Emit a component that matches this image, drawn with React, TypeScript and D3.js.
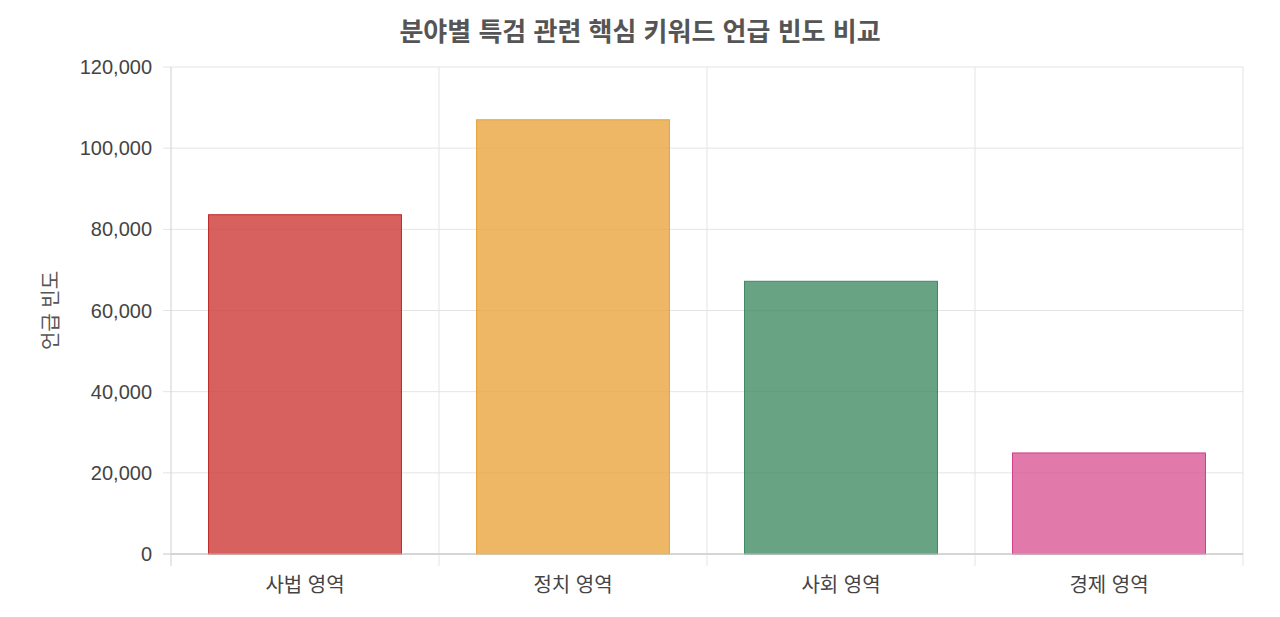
import React from "react";
import * as d3 from "d3";

const categories = ["사법 영역", "정치 영역", "사회 영역", "경제 영역"];
const values = [83600, 107000, 67200, 24900];
const fills = ["rgba(204,58,54,0.8)", "rgba(232,165,62,0.8)", "rgba(61,138,98,0.78)", "rgba(217,83,147,0.78)"];
const strokes = ["#bf2a2a", "#e8a33d", "#3d8a62", "#d13f88"];
const yTicks = [0, 20000, 40000, 60000, 80000, 100000, 120000];
const titleText = "분야별 특검 관련 핵심 키워드 언급 빈도 비교";
const yTitle = "언급 빈도";

const W = 1280, H = 617;
const left = 171, right = 1243, top = 67, bottom = 554;
const font = "'Liberation Sans', 'Noto Sans CJK KR', sans-serif";

export default function App() {
  const x = d3.scaleBand<string>().domain(categories).range([left, right]).paddingInner(0).paddingOuter(0);
  const y = d3.scaleLinear().domain([0, 120000]).range([bottom, top]);
  const bw = x.bandwidth() * 0.72;
  const fmt = d3.format(",");
  const bounds = [...categories.map((c) => x(c)!), right];
  return (
    <svg width={W} height={H} style={{ position: "absolute", left: 0, top: 0, background: "#fff" }}>
      <text x={640} y={41} textAnchor="middle" fontFamily={font} fontWeight="bold" fontSize={26} fill="#555">{titleText}</text>
      {yTicks.map((t) => (
        <g key={t}>
          <line x1={left - 8} x2={right} y1={y(t)} y2={y(t)} stroke={t === 0 ? "#c8c8c8" : "#e4e4e4"} strokeWidth={1} />
          <text x={left - 19} y={y(t)} dy="0.35em" textAnchor="end" fontFamily={font} fontSize={20} fill="#444">{fmt(t)}</text>
        </g>
      ))}
      {bounds.map((b, i) => (
        <line key={i} x1={b} x2={b} y1={top} y2={bottom + 12} stroke={i === 0 ? "#d0d0d0" : "#e4e4e4"} strokeWidth={1} />
      ))}
      {categories.map((c, i) => {
        const cx = x(c)! + x.bandwidth() / 2;
        return (
          <g key={c}>
            <rect x={cx - bw / 2} y={y(values[i])} width={bw} height={bottom - y(values[i])} fill={fills[i]} stroke={strokes[i]} strokeWidth={1} />
            <text x={cx} y={592} textAnchor="middle" fontFamily={font} fontSize={20} fill="#444">{c}</text>
          </g>
        );
      })}
      <line x1={left} x2={right} y1={bottom} y2={bottom} stroke="#c8c8c8" strokeWidth={1} />
      <text transform={`translate(58,${(top + bottom) / 2}) rotate(-90)`} textAnchor="middle" fontFamily={font} fontSize={20} fill="#555">{yTitle}</text>
    </svg>
  );
}
